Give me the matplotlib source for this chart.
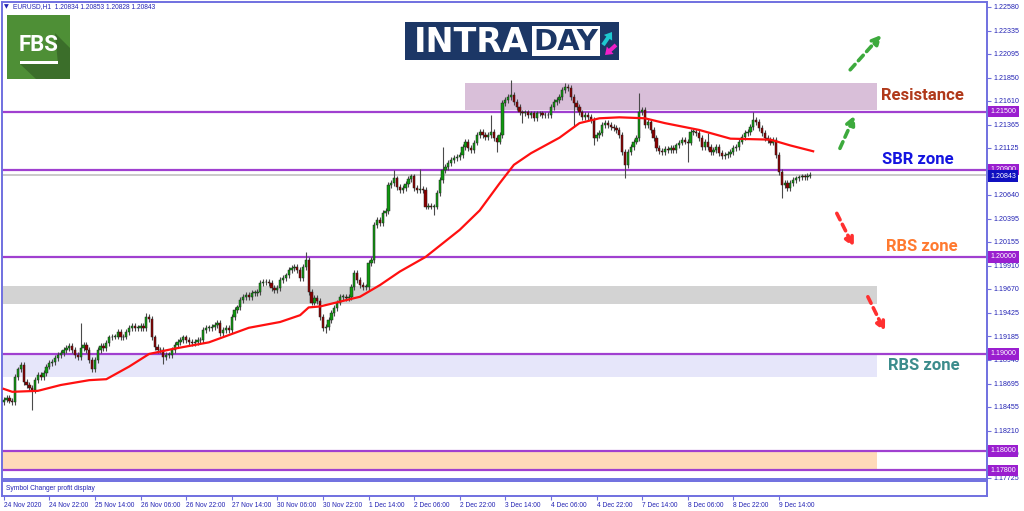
import matplotlib
matplotlib.use("Agg")
import matplotlib.pyplot as plt
import matplotlib.patches as mpatches
import numpy as np

# hourly closes, EURUSD H1, 24 Nov 06:00 -> 10 Dec
closes = [
    1.1853, 1.1855, 1.1852, 1.1850, 1.1876, 1.1884, 1.1889, 1.1871, 1.1868, 1.1865, 1.1863, 1.1873, 1.1878, 1.1876, 1.1880, 1.1887,
    1.1891, 1.1892, 1.1896, 1.1899, 1.1901, 1.1904, 1.1906, 1.1908, 1.1904, 1.1899, 1.1897, 1.1906, 1.1909, 1.1904, 1.1894, 1.1884,
    1.1894, 1.1904, 1.1908, 1.1906, 1.1911, 1.1917, 1.1918, 1.1918, 1.1923, 1.1917, 1.1918, 1.1923, 1.1927, 1.1929, 1.1927, 1.1927,
    1.1929, 1.1927, 1.1938, 1.1936, 1.1917, 1.1907, 1.1904, 1.1904, 1.1897, 1.1899, 1.1899, 1.1904, 1.1909, 1.1912, 1.1914, 1.1917,
    1.1914, 1.1912, 1.1911, 1.1912, 1.1914, 1.1914, 1.1925, 1.1927, 1.1927, 1.1928, 1.1930, 1.1932, 1.1922, 1.1925, 1.1927, 1.1925,
    1.1938, 1.1945, 1.1948, 1.1956, 1.1959, 1.1961, 1.1959, 1.1963, 1.1963, 1.1964, 1.1973, 1.1974, 1.1974, 1.1973, 1.1968, 1.1966,
    1.1968, 1.1976, 1.1978, 1.1981, 1.1987, 1.1989, 1.1990, 1.1987, 1.1978, 1.1990, 1.1997, 1.1964, 1.1953, 1.1958, 1.1955, 1.1938,
    1.1927, 1.1928, 1.1935, 1.1942, 1.1947, 1.1953, 1.1959, 1.1959, 1.1958, 1.1959, 1.1969, 1.1984, 1.1976, 1.1971, 1.1969, 1.1969,
    1.1994, 1.1997, 1.2033, 1.2038, 1.2035, 1.2045, 1.2047, 1.2074, 1.2076, 1.2081, 1.2072, 1.2069, 1.2071, 1.2075, 1.2080, 1.2083,
    1.2071, 1.2069, 1.2070, 1.2069, 1.2052, 1.2053, 1.2052, 1.2052, 1.2066, 1.2079, 1.2090, 1.2093, 1.2097, 1.2100, 1.2102, 1.2103,
    1.2105, 1.2113, 1.2119, 1.2112, 1.2110, 1.2118, 1.2126, 1.2129, 1.2126, 1.2124, 1.2126, 1.2129, 1.2123, 1.2119, 1.2126, 1.2159,
    1.2162, 1.2165, 1.2167, 1.2160, 1.2155, 1.2149, 1.2148, 1.2149, 1.2146, 1.2148, 1.2143, 1.2148, 1.2148, 1.2146, 1.2146, 1.2146,
    1.2155, 1.2160, 1.2162, 1.2165, 1.2172, 1.2175, 1.2174, 1.2165, 1.2159, 1.2155, 1.2149, 1.2144, 1.2146, 1.2144, 1.2141, 1.2123,
    1.2126, 1.2128, 1.2136, 1.2138, 1.2136, 1.2134, 1.2133, 1.2131, 1.2126, 1.2108, 1.2095, 1.2108, 1.2113, 1.2119, 1.2123, 1.2149,
    1.2152, 1.2136, 1.2139, 1.2131, 1.2123, 1.2112, 1.2109, 1.2108, 1.2111, 1.2110, 1.2112, 1.2110, 1.2115, 1.2118, 1.2121, 1.2119,
    1.2118, 1.2129, 1.2129, 1.2128, 1.2123, 1.2113, 1.2119, 1.2113, 1.2108, 1.2110, 1.2113, 1.2107, 1.2104, 1.2105, 1.2106, 1.2108,
    1.2112, 1.2113, 1.2119, 1.2124, 1.2128, 1.2129, 1.2134, 1.2141, 1.2139, 1.2133, 1.2128, 1.2123, 1.2121, 1.2118, 1.2121, 1.2105,
    1.2088, 1.2074, 1.2076, 1.2071, 1.2076, 1.2079, 1.2081, 1.2082, 1.2083, 1.2082, 1.2084, 1.20843,
]
first_open = 1.1850
# bars with long shadows
spike_hi = {27: 1.1932, 50: 1.1942, 106: 1.2005, 137: 1.2090, 146: 1.2091, 154: 1.2113,
            171: 1.2146, 178: 1.2182, 197: 1.2179, 223: 1.2169, 247: 1.2128, 263: 1.2149}
spike_lo = {10: 1.1842, 56: 1.1890, 113: 1.1922, 151: 1.2043, 173: 1.2108, 182: 1.2138,
            200: 1.2134, 207: 1.2115, 218: 1.2081, 240: 1.2098, 273: 1.2061}

# moving average (bar index, price)
ma_bars = [0, 3, 12, 20, 30, 36, 44, 51, 59, 72, 86, 97, 104, 107, 111, 118, 125, 132, 139, 148,
           160, 167, 174, 179, 185, 195, 202, 209, 216, 225, 232, 244, 255, 269, 276, 284]
ma_vals = [1.1864, 1.1861, 1.1862, 1.1868, 1.1873, 1.1874, 1.1887, 1.1900, 1.1905, 1.1912, 1.1927,
           1.1933, 1.1940, 1.1948, 1.1949, 1.1954, 1.1959, 1.1971, 1.1985, 1.2000, 1.2028, 1.2048,
           1.2076, 1.2095, 1.2107, 1.2123, 1.2138, 1.2143, 1.2144, 1.2143, 1.2138, 1.2131, 1.2122,
           1.2121, 1.2115, 1.2109]

levels = [1.21500, 1.20900, 1.20000, 1.19000, 1.18000, 1.17800]
last_price = 1.20843
yticks = [1.22580, 1.22335, 1.22095, 1.21850, 1.21610, 1.21365, 1.21125, 1.20640, 1.20395,
          1.20155, 1.19910, 1.19670, 1.19425, 1.19185, 1.18940, 1.18695, 1.18455, 1.18210,
          1.17970, 1.17725]
xlabels = ["24 Nov 2020", "24 Nov 22:00", "25 Nov 14:00", "26 Nov 06:00", "26 Nov 22:00",
           "27 Nov 14:00", "30 Nov 06:00", "30 Nov 22:00", "1 Dec 14:00", "2 Dec 06:00",
           "2 Dec 22:00", "3 Dec 14:00", "4 Dec 06:00", "4 Dec 22:00", "7 Dec 14:00",
           "8 Dec 06:00", "8 Dec 22:00", "9 Dec 14:00"]

# zones: (bar from, bar to, price low, price high, colour)
zones = [(162, 306.4, 1.2152, 1.2179, "#D9BFD9"),
         (-1, 306.4, 1.1952, 1.1970, "#D3D3D3"),
         (-1, 306.4, 1.1876, 1.1900, "#E6E6FA"),
         (-1, 306.4, 1.1780, 1.1800, "#FFDAB9")]
zone_text = [("Resistance", 322.5, 1.2166, "#B0391A"),
             ("SBR zone", 320.8, 1.2101, "#1414E0"),
             ("RBS zone", 322.0, 1.2011, "#FF7A30"),
             ("RBS zone", 322.9, 1.1888, "#3C8C8C")]
arrows = [((297, 1.2193), (308, 1.2229), "#3DAA3D"),
          ((293.4, 1.2112), (298.6, 1.2146), "#3DAA3D"),
          ((292.3, 1.2045), (298.3, 1.2010), "#FF3030"),
          ((303.2, 1.1959), (309.2, 1.1923), "#FF3030")]

frame = "#7070E0"
navy = "#2323B4"
purple = "#9A1ECF"
small = dict(family="Liberation Sans", fontsize=4.8)
ysmall = dict(family="Liberation Sans", fontsize=5.1)

fig = plt.figure(figsize=(10.24, 5.11), dpi=100)
W, H = 1024, 511
ax = fig.add_axes([2 / W, 1 - 479 / H, 985 / W, 477 / H])
ax2 = fig.add_axes([2 / W, 1 - 496 / H, 985 / W, 15 / H])

n = len(closes)
x = np.arange(n)
c = np.array(closes)
o = np.array([first_open] + closes[:-1])
hi = np.maximum(o, c) + 0.0003
lo = np.minimum(o, c) - 0.0003
for k, v in spike_hi.items():
    hi[k] = v
for k, v in spike_lo.items():
    lo[k] = v

for x0, x1, p0, p1, col in zones:
    ax.add_patch(mpatches.Rectangle((x0, p0), x1 - x0, p1 - p0, fc=col, ec="none", zorder=1))

for lv in levels:
    ax.axhline(lv, color="#A040D0", lw=1.6, zorder=2)
ax.axhline(last_price, color="#C0C0C0", lw=1.2, zorder=2)

ax.vlines(x, lo, hi, color="#4A4A4A", lw=0.8, zorder=3)
up = c >= o
body_h = np.maximum(np.abs(c - o), 0.00006)
ax.bar(x[up], body_h[up], bottom=np.minimum(o, c)[up], width=0.8, color="#109A10",
       edgecolor="#222222", linewidth=0.35, zorder=4)
ax.bar(x[~up], body_h[~up], bottom=np.minimum(o, c)[~up], width=0.8, color="#8B0000",
       edgecolor="#222222", linewidth=0.35, zorder=4)

ax.plot(ma_bars, ma_vals, color="#FF1010", lw=1.6, zorder=5)

for txt, tx, ty, col in zone_text:
    ax.text(tx, ty, txt, color=col, fontsize=12, fontweight="bold", family="Roboto",
            ha="center", va="center", zorder=6)

for (x0, y0), (x1, y1), col in arrows:
    ax.annotate("", xy=(x1, y1), xytext=(x0, y0),
                arrowprops=dict(arrowstyle="-|>", color=col, lw=2.6, linestyle=(0, (2, 1.4)),
                                mutation_scale=13, shrinkA=0, shrinkB=0), zorder=6)

ax.set_xlim(-0.6, 345)
ax.set_ylim(1.17711, 1.22629)
ax.set_xticks([])
ax.yaxis.tick_right()
ax.set_yticks(yticks)
ax.set_yticklabels(["%.5f" % t for t in yticks], **ysmall)
ax.tick_params(axis="y", length=3, width=0.8, color=frame, labelcolor=navy, pad=2)
for s in ax.spines.values():
    s.set_color(frame)
    s.set_linewidth(1.4)

yt = ax.get_yaxis_transform()
for lv in levels:
    ax.text(1.0035, lv, "%.5f" % lv, transform=yt, color="white", va="center", ha="left",
            bbox=dict(boxstyle="square,pad=0.3", fc=purple, ec="none"),
            clip_on=False, zorder=7, **ysmall)
ax.text(1.0035, last_price - 0.00008, "%.5f" % last_price, transform=yt, color="white",
        va="center", ha="left", bbox=dict(boxstyle="square,pad=0.3", fc="#1010C0", ec="none"),
        clip_on=False, zorder=7, **ysmall)

# indicator sub window
ax2.set_xlim(-0.6, 345)
ax2.set_ylim(0, 1)
ax2.set_yticks([])
ticks = np.arange(len(xlabels)) * 16
ax2.set_xticks(ticks)
ax2.set_xticklabels(xlabels, **small)
for lab in ax2.get_xticklabels():
    lab.set_ha("left")
ax2.tick_params(axis="x", length=3, width=0.8, color=frame, labelcolor=navy, pad=1.5)
for s in ax2.spines.values():
    s.set_color(frame)
    s.set_linewidth(1.4)
ax2.text(0.004, 0.5, "Symbol Changer profit display", transform=ax2.transAxes,
         color=navy, va="center", ha="left", **small)

# overlay in pixel coordinates for header and logos
ov = fig.add_axes([0, 0, 1, 1], zorder=10)
ov.set_xlim(0, W)
ov.set_ylim(H, 0)
ov.axis("off")
ov.text(4, 7, "\u25bc", fontsize=4.5, color=navy, va="center", ha="left")
ov.text(13, 7, "EURUSD,H1  1.20834 1.20853 1.20828 1.20843", color=navy, va="center",
        ha="left", **small)

# FBS logo
ov.add_patch(mpatches.Rectangle((7, 15), 63, 64, fc="#4E8F36", ec="none"))
ov.add_patch(mpatches.Polygon([(55, 33), (70, 48), (70, 79), (36, 79), (20, 64), (58, 64)],
                              closed=True, fc="#3B6E2A", ec="none"))
ov.text(38.5, 45, "FBS", fontsize=16, fontweight="bold", family="Roboto", color="white",
        ha="center", va="center")
ov.add_patch(mpatches.Rectangle((20, 61), 38, 3, fc="white", ec="none"))

# INTRADAY logo
ov.add_patch(mpatches.Rectangle((405, 22), 214, 38, fc="#1C3766", ec="none"))
ov.text(471, 42, "INTRA", fontsize=24, fontweight="bold", family="DejaVu Sans",
        color="white", ha="center", va="center")
ov.add_patch(mpatches.Rectangle((532, 26), 68, 30, fc="white", ec="none"))
ov.text(566, 42, "DAY", fontsize=21, fontweight="bold", family="DejaVu Sans",
        color="#1C3766", ha="center", va="center")
ov.add_patch(mpatches.FancyArrow(603, 45, 9, -13, width=4, head_width=10, head_length=7,
                                 fc="#1EC8D0", ec="none", length_includes_head=True))
ov.add_patch(mpatches.FancyArrow(616, 45, -11, 10, width=4, head_width=10, head_length=7,
                                 fc="#F020C8", ec="none", length_includes_head=True))

fig.savefig("out.png", dpi=100, facecolor="white")
